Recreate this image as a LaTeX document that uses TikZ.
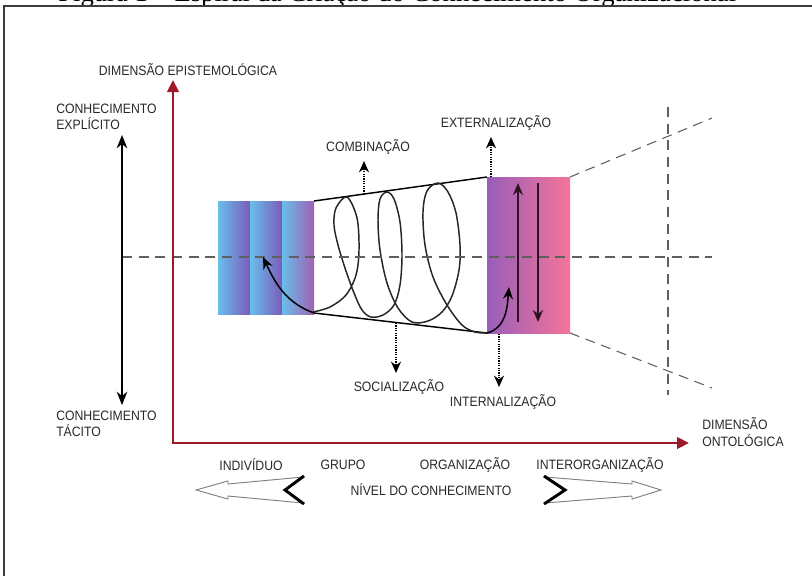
\documentclass[tikz,border=0pt]{standalone}
\usepackage{fontspec}
\setmainfont{Liberation Sans}[FakeStretch=0.9]
\newfontfamily\capfont{Liberation Serif}
\usetikzlibrary{arrows.meta}
\definecolor{axisred}{RGB}{158,24,40}
\definecolor{txt}{RGB}{40,40,40}
\definecolor{dashgray}{RGB}{95,95,95}
\definecolor{framegray}{RGB}{60,60,60}
\definecolor{bluelight}{RGB}{105,190,235}
\definecolor{bluemid}{RGB}{85,140,218}
\definecolor{violetend}{RGB}{122,92,186}
\definecolor{violetend2}{RGB}{160,96,180}
\definecolor{purp}{RGB}{152,94,186}
\definecolor{pinkmid}{RGB}{225,100,142}
\definecolor{pinkend}{RGB}{245,116,152}
\definecolor{innerdark}{RGB}{45,20,35}
\begin{document}
\begin{tikzpicture}[x=0.75pt,y=-0.75pt,
  lab/.style={font=\fontsize{10.2}{12.2}\selectfont, text=txt, inner sep=0pt},
  lab2/.style={lab, align=left, anchor=west},
  axisline/.style={draw=axisred, line width=2.2pt, line join=miter,
     {Triangle[length=9pt,width=8.5pt]}-{Triangle[length=9pt,width=8.5pt]}},
  dotarrow/.style={draw=black, line width=1.4pt, dash pattern=on 0.9pt off 0.9pt,
     -{Stealth[length=8.5pt,width=7.5pt]}},
  dashline/.style={draw=dashgray, line width=0.8pt, dash pattern=on 7.5pt off 5pt},
  thinarrow/.style={draw=black, line width=1.1pt, -{Stealth[length=9pt,width=7.5pt]}},
  innerarrow/.style={draw=innerdark, line width=1.1pt, -{Stealth[length=9pt,width=7.5pt]}},
  hollow/.style={draw=gray, fill=white, line width=0.7pt, line join=miter},
  chevron/.style={draw=black, line width=2.2pt, line join=miter},
  edge/.style={draw=black, line width=1.1pt}
]
\useasboundingbox (0,0) rectangle (812,575);
\clip (0,0) rectangle (812,575);
\fill[white] (0,0) rectangle (812,575);

% caption (cut by the top edge, as in the reference)
\node[font=\capfont\fontsize{20}{24}\selectfont, anchor=base west, inner sep=0pt] (caption) at (58,1)
  {Figura 1 – Espiral da Criação do Conhecimento Organizacional};

% frame
\draw[framegray, line width=1pt] (4,580) -- (4,6) -- (815,6);

% coordinates
\coordinate (TRtl) at (314,201);
\coordinate (TRbl) at (314,313);
\coordinate (TRtr) at (487,177);
\coordinate (TRbr) at (487,333);
\coordinate (RBtl) at (487,177);
\coordinate (RBbr) at (570,333);
\coordinate (RBtr) at (570,177);

% left striped block
\shade[left color=bluelight, middle color=bluemid, right color=violetend] (218,201) rectangle (250,314);
\shade[left color=bluelight, middle color=bluemid, right color=violetend] (250,201) rectangle (282,314);
\shade[left color=bluelight, middle color=bluemid, right color=violetend2] (282,201) rectangle (314,314);

% right block
\shade[left color=purp, middle color=pinkmid, right color=pinkend] (RBtl) rectangle (RBbr);

% trapezoid edges
\draw[edge] (TRtl) -- (TRtr);
\draw[edge] (TRbl) -- (TRbr);

% spiral
\draw[black!85, line width=1.1pt] plot[smooth, tension=0.55] coordinates {
 (313,312) (330,307) (346,295) (356,275) (359,250) (357,218) (347,197) (336,208)
 (334,225) (338,245) (345,268) (354,293) (362,310) (371,317) (383,315) (394,305)
 (400,285) (402,255) (400,222) (394,199) (387,192) (380,199) (378,220) (380,250)
 (387,283) (398,308) (412,322) (428,321) (442,312) (452,296) (459,270) (460,245)
 (456,213) (448,192) (438,183) (427,191) (423,212) (425,245) (433,277) (447,305)
 (462,325) (475,332) (487,333)};

% dashed guides
\coordinate (hL) at (122,257);
\coordinate (hR) at (712,257);
\coordinate (vT) at (668,107);
\coordinate (vB) at (668,395);
\coordinate (dU) at (712,118);
\coordinate (dD) at (712,388);
\draw[dashline] (hL) -- (hR);
\draw[dashline] (vT) -- (vB);
\draw[dashline] (RBtr) -- (dU);
\draw[dashline] (RBbr) -- (dD);

% curved arrows
\coordinate (cL) at (263,257);
\coordinate (cR) at (509,287);
\draw[thinarrow] (TRbl) to[out=160,in=-65] (cL);
\draw[thinarrow] (TRbr) to[out=15,in=-95] (cR);

% inner arrows of right block
\coordinate (uB) at (518,322);
\coordinate (uT) at (518,183);
\coordinate (dT) at (538,183);
\coordinate (dB) at (538,322);
\draw[innerarrow] (uB) -- (uT);
\draw[innerarrow] (dT) -- (dB);

% axes
\coordinate (axTop) at (173,80);
\coordinate (axO) at (173,443);
\coordinate (axRight) at (689,443);
\draw[axisline] (axTop) -- (axO) -- (axRight);

% left double arrow
\coordinate (eTop) at (122,135);
\coordinate (eBot) at (122,405);
\draw[line width=1.1pt, {Stealth[length=10pt,width=8pt]}-{Stealth[length=10pt,width=8pt]}] (eBot) -- (eTop);

% labels
\node[lab] (epist) at (188,70) {DIMENSÃO EPISTEMOLÓGICA};
\node[lab2] (explicito) at (56,117) {CONHECIMENTO\\EXPLÍCITO};
\node[lab2] (tacito) at (56,424) {CONHECIMENTO\\TÁCITO};
\node[lab2] (ontol) at (702,432) {DIMENSÃO\\ONTOLÓGICA};
\node[lab] (comb) at (368,147) {COMBINAÇÃO};
\node[lab] (ext) at (496,123) {EXTERNALIZAÇÃO};
\node[lab] (soc) at (399,387) {SOCIALIZAÇÃO};
\node[lab] (int) at (503,402) {INTERNALIZAÇÃO};
\node[lab] (indiv) at (251,465) {INDIVÍDUO};
\node[lab] (grupo) at (343,465) {GRUPO};
\node[lab] (org) at (465,465) {ORGANIZAÇÃO};
\node[lab] (inter) at (600,465) {INTERORGANIZAÇÃO};
\node[lab] (nivel) at (431,490) {NÍVEL DO CONHECIMENTO};

% dotted arrows
\coordinate (combS) at (364,194);
\coordinate (combE) at (364,161);
\coordinate (extS) at (491,177);
\coordinate (extE) at (491,137);
\coordinate (socS) at (396,323);
\coordinate (socE) at (396,373);
\coordinate (intS) at (499,334);
\coordinate (intE) at (499,387);
\draw[dotarrow] (combS) -- (combE);
\draw[dotarrow] (extS) -- (extE);
\draw[dotarrow] (socS) -- (socE);
\draw[dotarrow] (intS) -- (intE);

% hollow level arrows
\draw[hollow] (196,490) -- (228,481) -- (228,484) -- (303,477) -- (285,490) -- (303,503) -- (228,496) -- (228,499) -- cycle;
\draw[chevron] (304,476) -- (285,490) -- (304,504);
\draw[hollow] (661,490) -- (632,481) -- (632,484) -- (545,477) -- (565,490) -- (545,503) -- (632,496) -- (632,499) -- cycle;
\draw[chevron] (544,476) -- (565,490) -- (544,504);
\end{tikzpicture}
\end{document}
